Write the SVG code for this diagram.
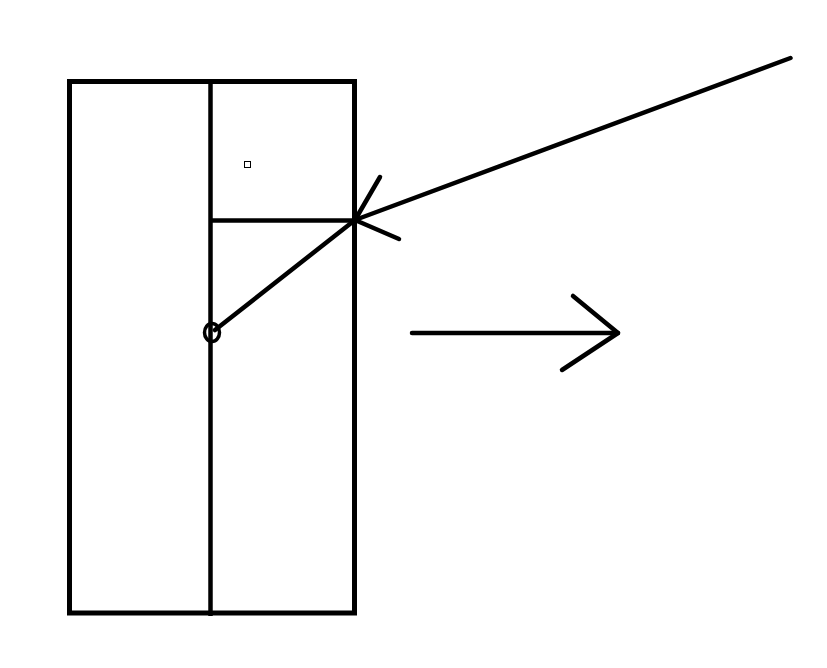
<svg xmlns="http://www.w3.org/2000/svg" width="827" height="668" viewBox="0 0 827 668">
<style>
.s{fill:none;stroke:#000;stroke-linecap:round;stroke-linejoin:round}
</style>
<rect width="827" height="668" fill="#fff"/>
<g id="box">
<rect x="69.5" y="81.5" width="285" height="531.5" fill="none" stroke="#000" stroke-width="5"/>
<line x1="210.5" y1="81" x2="210.5" y2="616" stroke="#000" stroke-width="4.5"/>
<line x1="210" y1="220.5" x2="355" y2="220.5" stroke="#000" stroke-width="4.5"/>
<rect x="244.5" y="161.5" width="6" height="6" fill="none" stroke="#000" stroke-width="1"/>
</g>
<g id="pivot">
<ellipse cx="212" cy="332.5" rx="7.5" ry="9" fill="none" stroke="#000" stroke-width="3.5"/>
</g>
<g id="connectors">
<line class="s" x1="215" y1="330" x2="355" y2="220" stroke-width="4.5"/>
<line class="s" x1="790.5" y1="58" x2="355" y2="220" stroke-width="4.5"/>
<polyline class="s" points="380,177 355,220 399,239" stroke-width="4.5"/>
<line class="s" x1="412" y1="333" x2="618" y2="333" stroke-width="4.5"/>
<polyline class="s" points="573,296 618,333 562,370" stroke-width="4.5"/>
</g>
</svg>
